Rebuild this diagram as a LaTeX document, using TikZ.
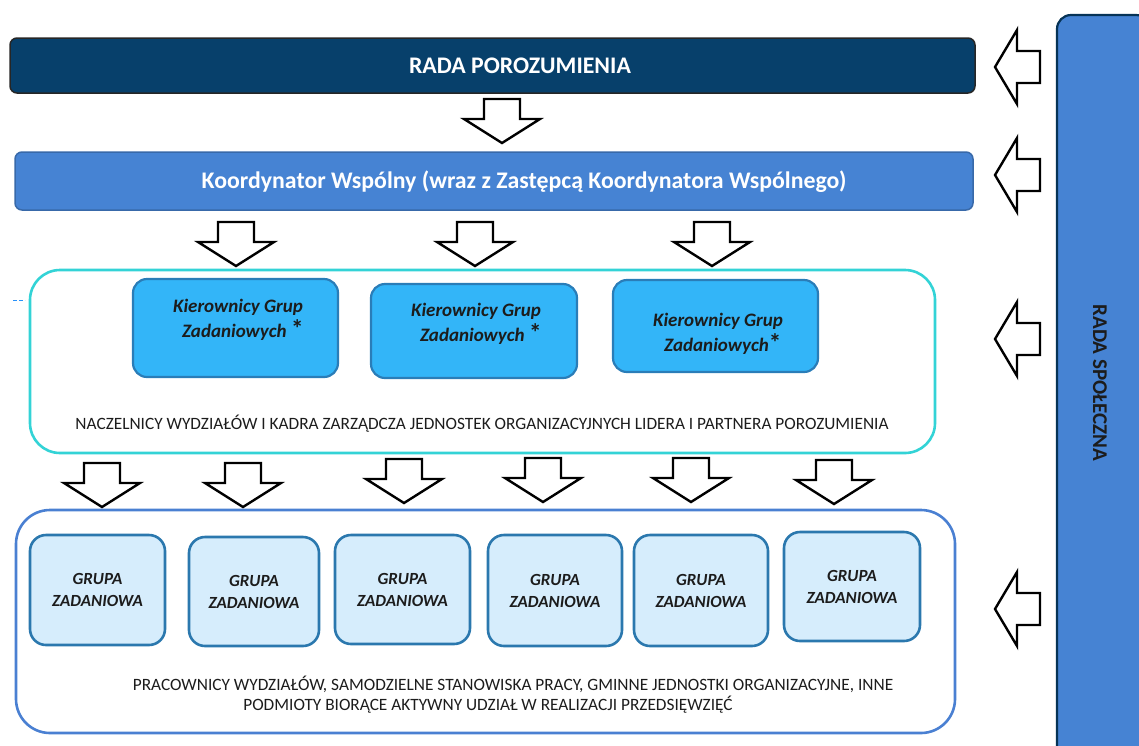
\documentclass[tikz,border=0pt]{standalone}
\usepackage{fontspec}
\setmainfont{Carlito}
\usetikzlibrary{positioning}

\definecolor{navy}{HTML}{07406B}
\definecolor{midblue}{HTML}{4683D3}
\definecolor{skyblue}{HTML}{33B5F8}
\definecolor{skyedge}{HTML}{2A7DB8}
\definecolor{paleblue}{HTML}{D6EDFC}
\definecolor{paleedge}{HTML}{2B78AE}
\definecolor{turq}{HTML}{33D3D6}
\definecolor{frameblue}{HTML}{4A80D2}
\definecolor{ink}{HTML}{1C1C1C}

\newcommand\bigstar{{\fontsize{25}{25}\selectfont\upshape*}}

\tikzset{
  bar/.style={draw=#1, rounded corners=7pt, line width=1.5pt},
  bartext/.style={text=white, font=\bfseries\fontsize{23.8}{26}\selectfont},
  frame/.style={draw=#1, rounded corners=30pt, line width=2.6pt},
  leader/.style={draw=skyedge, fill=skyblue, rounded corners=14pt, line width=2.2pt},
  leadtext/.style={text=ink, align=center, font=\bfseries\itshape\fontsize{19}{25}\selectfont},
  group/.style={draw=paleedge, fill=paleblue, rounded corners=16pt, line width=2.6pt,
    text=ink, align=center, font=\bfseries\itshape\fontsize{17}{22}\selectfont},
  plain/.style={text=ink, align=center, font=\fontsize{17.3}{20}\selectfont},
  blockarrow/.style={draw=black, fill=white, line width=2.4pt, line join=miter},
  downarr/.pic={\draw[blockarrow] (-18,0) -- (18,0) -- (18,20) -- (38,20) -- (0,44)
    -- (-38,20) -- (-18,20) -- cycle;},
  leftarr/.pic={\draw[blockarrow] (0,0) -- (22,-37) -- (22,-16) -- (45,-16) -- (45,16)
    -- (22,16) -- (22,37) -- cycle;}
}

\begin{document}
\begin{tikzpicture}[x=1pt, y=-1pt]
  \useasboundingbox (0,0) rectangle (1139,745);
  % right column
  \node[draw=navy!80!black, fill=midblue, line width=2.2pt, rounded corners=14pt,
    minimum width=93pt, minimum height=745pt] (spol) at (1103.5,387.5) {};
  \node[rotate=-90, text=ink, font=\bfseries\fontsize{21}{22}\selectfont] (spoltext)
    at (1100,383) {RADA SPOŁECZNA};
  % top bars
  \node[bar=black!85, fill=navy, minimum width=965pt, minimum height=55pt] (rada)
    at (492.5,65.5) {};
  \node[bartext] (radatext) at (520,66) {RADA POROZUMIENIA};
  \node[bar=midblue!80!black, fill=midblue, minimum width=958pt, minimum height=58pt] (koord)
    at (494,181) {};
  \node[bartext] (koordtext) at (524,182)
    {Koordynator Wspólny (wraz z Zastępcą Koordynatora Wspólnego)};
  % frame of leaders
  \node[frame=turq, minimum width=905pt, minimum height=183pt] (kadra) at (482.5,361.5) {};
  \draw[draw=skyblue!80!blue, line width=1pt, dashed, dash pattern=on 4pt off 2pt]
    (13,300) -- (25,300);
  \node[leader, minimum width=205pt, minimum height=98pt] (kier1) at (235.5,328) {};
  \node[leader, minimum width=206pt, minimum height=94pt] (kier2) at (474,331) {};
  \node[leader, minimum width=205pt, minimum height=92pt] (kier3) at (715.5,326) {};
  \node[leadtext] (kier1text) at (238,320) {Kierownicy Grup\\ \enspace Zadaniowych \bigstar};
  \node[leadtext] (kier2text) at (476,324) {Kierownicy Grup\\ \enspace Zadaniowych \bigstar};
  \node[leadtext] (kier3text) at (718,334) {Kierownicy Grup\\ \enspace Zadaniowych\bigstar};
  \node[plain] (kadratext) at (482,424)
    {NACZELNICY WYDZIAŁÓW I KADRA ZARZĄDCZA JEDNOSTEK ORGANIZACYJNYCH LIDERA I PARTNERA POROZUMIENIA};
  % frame of task groups
  \node[frame=frameblue, rounded corners=34pt, minimum width=939pt, minimum height=223pt] (prac)
    at (485.5,621.5) {};
  \node[group, minimum width=135pt, minimum height=110pt] (grupa1) at (97.5,590) {GRUPA\\ZADANIOWA};
  \node[group, minimum width=130pt, minimum height=109pt] (grupa2) at (254,591.5) {GRUPA\\ZADANIOWA};
  \node[group, minimum width=135pt, minimum height=109pt] (grupa3) at (402.5,589.5) {GRUPA\\ZADANIOWA};
  \node[group, minimum width=134pt, minimum height=111pt] (grupa4) at (555,590.5) {GRUPA\\ZADANIOWA};
  \node[group, minimum width=134pt, minimum height=111pt] (grupa5) at (701,590.5) {GRUPA\\ZADANIOWA};
  \node[group, minimum width=136pt, minimum height=109pt] (grupa6) at (852,586.5) {GRUPA\\ZADANIOWA};
  \node[plain] (practext) at (513,695)
    {PRACOWNICY WYDZIAŁÓW, SAMODZIELNE STANOWISKA PRACY, GMINNE JEDNOSTKI ORGANIZACYJNE, INNE\\
     \hspace*{-50pt}PODMIOTY BIORĄCE AKTYWNY UDZIAŁ W REALIZACJI PRZEDSIĘWZIĘĆ};
  % block arrows
  \pic at (502,99) {downarr};
  \foreach \x in {236,475,712} \pic at (\x,222) {downarr};
  \foreach \x/\y in {102/463,243/463,404/459,543/458,691/458,834/460} \pic at (\x,\y) {downarr};
  \foreach \y in {67,175,339,609} \pic at (995,\y) {leftarr};
\end{tikzpicture}
\end{document}
